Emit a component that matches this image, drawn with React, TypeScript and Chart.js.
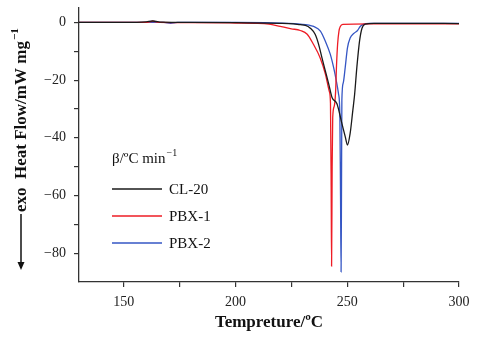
import React, { useEffect, useRef } from "react";
import { Chart, registerables } from "chart.js";

Chart.register(...registerables);

const seriesLabels = ["CL-20", "PBX-1", "PBX-2"];
const seriesColors = ["#1a1a1a", "#ee1c25", "#3556c4"];

const tempCL20 = [130, 150, 160, 163, 167, 180, 200, 220, 226, 229, 231.3, 233.5, 235.7, 237.2, 238.7, 240.2, 241.7, 243.2, 245.4, 247.6, 249.1, 250.1, 251.3, 252.5, 253.3, 254.3, 255.5, 256.6, 258, 262, 280, 300];
const heatCL20 = [0, 0, 0.2, 0.5, 0.1, 0, -0.1, -0.3, -0.5, -0.8, -1, -2, -4.2, -7.6, -12.3, -16.8, -21.3, -26, -28.2, -35, -39.6, -42.5, -38.5, -30.5, -25, -15.6, -6.5, -2, -0.6, -0.3, -0.3, -0.4];

const tempPBX1 = [130, 160, 163, 166, 180, 200, 210, 215, 220, 225, 229, 232.1, 234.8, 237.9, 240.2, 242, 242.5, 242.8, 243.0, 243.25, 243.5, 244.2, 244.8, 245.2, 245.7, 246.3, 246.9, 248, 260, 300];
const heatPBX1 = [0, 0, 0.4, 0, -0.1, -0.2, -0.3, -0.6, -1.4, -2.2, -2.8, -4.1, -7.5, -12.3, -17.8, -24, -28, -55, -84.5, -50, -33, -29, -24, -15, -7.5, -3, -1.4, -0.7, -0.5, -0.5];

const tempPBX2 = [130, 168, 171, 174, 200, 229, 235, 238, 240.2, 242.4, 243.9, 245.1, 246.1, 246.7, 247.0, 247.25, 247.45, 247.6, 248.2, 249.1, 250.1, 251.3, 253.1, 254.6, 255.8, 257.3, 260, 300];
const heatPBX2 = [0, 0, -0.3, 0, 0, -0.6, -1.4, -3, -6.5, -11, -15.6, -20.2, -24.8, -32, -60, -86.5, -55, -27, -21, -15.6, -8.8, -5.4, -3.7, -2.8, -1.4, -0.6, -0.3, -0.3];

const xMin = 130;
const xMax = 300;
const yMin = -90;
const yMax = 5;
const xTickStep = 25;
const yTickStep = 10;

const xTitle = "Tempreture/ºC";
const yTitle = "exo  Heat Flow/mW mg";
const yTitleSup = "\u22121";
const legendTitle = "β/ºC min";
const legendTitleSup = "\u22121";

const SERIF = "'Liberation Serif', 'Times New Roman', serif";

function toPoints(xs: number[], ys: number[]) {
  return xs.map((x, i) => ({ x, y: ys[i] }));
}

const overlayPlugin = {
  id: "overlay",
  afterDraw(chart: any) {
    const ctx = chart.ctx as CanvasRenderingContext2D;
    const area = chart.chartArea;
    ctx.save();
    ctx.fillStyle = "#111";
    // X title
    ctx.font = `bold 17px ${SERIF}`;
    ctx.textAlign = "center";
    ctx.textBaseline = "middle";
    ctx.fillText(xTitle, (area.left + area.right) / 2, 323);

    // Y title with arrow
    ctx.save();
    ctx.translate(21, 270);
    ctx.rotate(-Math.PI / 2);
    ctx.strokeStyle = "#111";
    ctx.lineWidth = 1.5;
    ctx.beginPath();
    ctx.moveTo(2, 0);
    ctx.lineTo(56, 0);
    ctx.stroke();
    ctx.beginPath();
    ctx.moveTo(0, 0);
    ctx.lineTo(8, -3.5);
    ctx.lineTo(8, 3.5);
    ctx.closePath();
    ctx.fill();
    ctx.font = `bold 17px ${SERIF}`;
    ctx.textAlign = "left";
    ctx.textBaseline = "middle";
    ctx.fillText(yTitle, 58, 1);
    const w = ctx.measureText(yTitle).width;
    ctx.font = `bold 11px ${SERIF}`;
    ctx.fillText(yTitleSup, 58 + w + 1, -6);
    ctx.restore();

    // Legend
    const lx = 112;
    ctx.font = `15px ${SERIF}`;
    ctx.textAlign = "left";
    ctx.textBaseline = "middle";
    ctx.fillText(legendTitle, lx, 159);
    const lw = ctx.measureText(legendTitle).width;
    ctx.font = `10px ${SERIF}`;
    ctx.fillText(legendTitleSup, lx + lw + 1, 153);
    const rowY = [189, 216, 243];
    chart.data.datasets.forEach((ds: any, i: number) => {
      ctx.strokeStyle = ds.borderColor;
      ctx.lineWidth = 1.3;
      ctx.beginPath();
      ctx.moveTo(lx, rowY[i]);
      ctx.lineTo(lx + 50, rowY[i]);
      ctx.stroke();
      ctx.fillStyle = "#111";
      ctx.font = `15px ${SERIF}`;
      ctx.fillText(ds.label, lx + 57, rowY[i] + 1);
    });
    ctx.restore();
  },
};

export default function App() {
  const canvasRef = useRef<HTMLCanvasElement | null>(null);

  useEffect(() => {
    document.body.style.margin = "0";
    const canvas = canvasRef.current;
    if (!canvas) return;
    const data = [
      toPoints(tempCL20, heatCL20),
      toPoints(tempPBX1, heatPBX1),
      toPoints(tempPBX2, heatPBX2),
    ];
    const chart = new Chart(canvas, {
      type: "line",
      data: {
        datasets: data.map((pts, i) => ({
          label: seriesLabels[i],
          data: pts,
          borderColor: seriesColors[i],
          backgroundColor: seriesColors[i],
          borderWidth: 1.3,
          pointRadius: 0,
          fill: false,
          cubicInterpolationMode: "monotone" as const,
        })),
      },
      options: {
        animation: false,
        responsive: false,
        maintainAspectRatio: false,
        layout: { padding: { left: 0, right: 41, top: 8, bottom: 0 } },
        plugins: {
          legend: { display: false },
          tooltip: { enabled: false },
        },
        scales: {
          x: {
            type: "linear",
            min: xMin,
            max: xMax,
            afterBuildTicks: (scale: any) => {
              scale.ticks = scale.ticks.filter((t: any) => t.value % xTickStep === 0 && t.value > xMin);
            },
            afterFit: (scale: any) => {
              scale.height = 71;
              scale.paddingLeft = 0;
              scale.paddingRight = 0;
            },
            ticks: {
              stepSize: xTickStep,
              autoSkip: false,
              maxRotation: 0,
              color: "#222",
              font: { family: SERIF, size: 14 },
              padding: 7,
              callback: (v: any) => (Number(v) % 50 === 0 ? String(v) : ""),
            },
            grid: {
              drawOnChartArea: false,
              drawTicks: true,
              tickLength: 5,
              color: "#333",
              lineWidth: 1.2,
            },
            border: { display: true, color: "#333", width: 1.3 },
          },
          y: {
            type: "linear",
            min: yMin,
            max: yMax,
            afterBuildTicks: (scale: any) => {
              scale.ticks = scale.ticks.filter(
                (t: any) => t.value % yTickStep === 0 && t.value > yMin && t.value <= 0
              );
            },
            afterFit: (scale: any) => {
              scale.width = 79;
              scale.paddingTop = 0;
              scale.paddingBottom = 0;
            },
            ticks: {
              stepSize: yTickStep,
              autoSkip: false,
              color: "#222",
              font: { family: SERIF, size: 14 },
              padding: 8,
              callback: (v: any) => {
                const n = Number(v);
                if (n % 20 !== 0) return "";
                return n < 0 ? "\u2212" + Math.abs(n) : String(n);
              },
            },
            grid: {
              drawOnChartArea: false,
              drawTicks: true,
              tickLength: 5,
              color: "#333",
              lineWidth: 1.2,
            },
            border: { display: true, color: "#333", width: 1.3 },
          },
        },
      },
      plugins: [overlayPlugin],
    });
    return () => chart.destroy();
  }, []);

  return (
    <div style={{ width: 500, height: 353, background: "#fff" }}>
      <canvas ref={canvasRef} width={500} height={353} style={{ display: "block" }} />
    </div>
  );
}
